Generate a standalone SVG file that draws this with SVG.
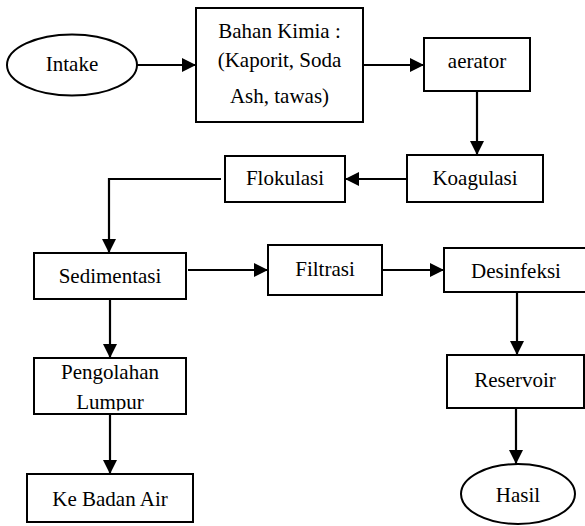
<svg xmlns="http://www.w3.org/2000/svg" width="585" height="526" viewBox="0 0 585 526">
<style>
.box{fill:#fff;stroke:#000;stroke-width:2}
.t{font-family:'Liberation Serif','Times New Roman','DejaVu Serif',serif;font-size:21px;fill:#000;text-anchor:middle}
.c{fill:none;stroke:#000;stroke-width:2.2;marker-end:url(#ah)}
</style>
<defs>
<marker id="ah" markerUnits="userSpaceOnUse" markerWidth="14" markerHeight="14" refX="14" refY="7" orient="auto">
<path d="M0,0 L14,7 L0,14 z" fill="#000"/>
</marker>
<clipPath id="clipL"><rect x="35" y="359" width="150" height="51.5"/></clipPath>
</defs>
<rect width="585" height="526" fill="#fff"/>
<g id="connectors">
<path class="c" d="M137,65 H196"/>
<path class="c" d="M363,65 H424"/>
<path class="c" d="M477,91 V155"/>
<path class="c" d="M407,179 H345"/>
<path class="c" d="M221,179 H109 V253"/>
<path class="c" d="M188,270 H268"/>
<path class="c" d="M382,270 H444"/>
<path class="c" d="M517,292 V355"/>
<path class="c" d="M516,408 V464"/>
<path class="c" d="M110,299 V358"/>
<path class="c" d="M110,414 V474"/>
</g>
<g id="intake"><ellipse class="box" cx="72" cy="65" rx="65" ry="30.5"/><text class="t" x="72" y="71">Intake</text></g>
<g id="bahan"><rect class="box" x="196" y="8" width="167" height="114"/>
<text class="t" x="279.5" y="38">Bahan Kimia :</text>
<text class="t" x="279.5" y="67">(Kaporit, Soda</text>
<text class="t" x="279.5" y="103">Ash, tawas)</text></g>
<g id="aerator"><rect class="box" x="424" y="38" width="106" height="53"/><text class="t" x="477" y="68">aerator</text></g>
<g id="koagulasi"><rect class="box" x="407" y="155" width="136" height="47"/><text class="t" x="475" y="185">Koagulasi</text></g>
<g id="flokulasi"><rect class="box" x="225" y="156" width="120" height="46"/><text class="t" x="285" y="185">Flokulasi</text></g>
<g id="sedimentasi"><rect class="box" x="34" y="253" width="152" height="46"/><text class="t" x="110" y="283">Sedimentasi</text></g>
<g id="filtrasi"><rect class="box" x="268" y="245" width="114" height="50"/><text class="t" x="325" y="276">Filtrasi</text></g>
<g id="desinfeksi"><rect class="box" x="444" y="248" width="146" height="44"/><text class="t" x="516" y="278">Desinfeksi</text></g>
<g id="reservoir"><rect class="box" x="447" y="355" width="137" height="53"/><text class="t" x="515" y="387">Reservoir</text></g>
<g id="pengolahan"><rect class="box" x="34" y="358" width="152" height="56"/>
<g clip-path="url(#clipL)"><text class="t" x="110" y="379">Pengolahan</text><text class="t" x="110" y="409">Lumpur</text></g></g>
<g id="kebadanair"><rect class="box" x="27" y="474" width="166" height="48"/><text class="t" x="110" y="506">Ke Badan Air</text></g>
<g id="hasil"><ellipse class="box" cx="518" cy="494" rx="57" ry="30"/><text class="t" x="518" y="502">Hasil</text></g>
</svg>
